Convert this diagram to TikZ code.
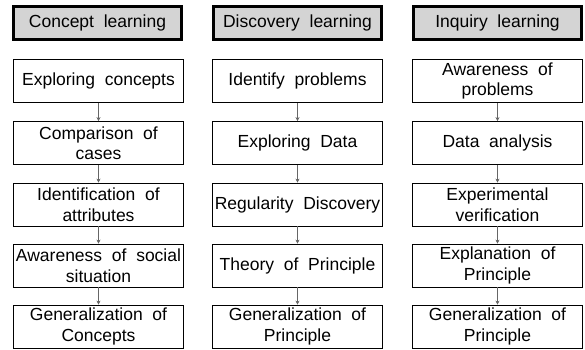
\documentclass[tikz,border=0pt]{standalone}
\usepackage{fontspec}
\setmainfont{Liberation Sans}
\usetikzlibrary{arrows.meta}
\begin{document}
\begin{tikzpicture}[x=1pt,y=-1pt,
  hdr/.style={draw=black, line width=2.6pt, fill=black!17, minimum width=168pt, minimum height=33pt, inner sep=0pt, font=\fontsize{17.5}{19}\selectfont},
  stepbox/.style={draw=black, line width=0.8pt, minimum width=170pt, minimum height=43pt, inner sep=0pt, align=center, font=\fontsize{17.5}{20.5}\selectfont},
  arr/.style={draw=black!60, line width=0.8pt, -{Stealth[length=4pt,width=4pt,fill=black]}}
]
\useasboundingbox (0,0) rectangle (585,349);
% headers
\node[hdr] (h1) at (97.5,23) {Concept\ \ learning};
\node[hdr] (h2) at (297.5,23) {Discovery\ \ learning};
\node[hdr] (h3) at (497.5,23) {Inquiry\ \ learning};
% column 1
\node[stepbox] (a1) at (98.5,81) {Exploring\ \ concepts};
\node[stepbox] (a2) at (98.5,143) {Comparison\ \ of\\cases};
\node[stepbox] (a3) at (98.5,204.5) {Identification\ \ of\\attributes};
\node[stepbox] (a4) at (98.5,265.5) {Awareness\ \ of\ \ social\\situation};
\node[stepbox] (a5) at (98.5,326.5) {Generalization\ \ of\\Concepts};
% column 2
\node[stepbox] (b1) at (297.5,81) {Identify\ \ problems};
\node[stepbox] (b2) at (297.5,143) {Exploring\ \ Data};
\node[stepbox] (b3) at (297.5,204.5) {Regularity\ \ Discovery};
\node[stepbox] (b4) at (297.5,265.5) {Theory\ \ of\ \ Principle};
\node[stepbox] (b5) at (297.5,326.5) {Generalization\ \ of\\Principle};
% column 3
\node[stepbox] (c1) at (497.5,81) {Awareness\ \ of\\problems};
\node[stepbox] (c2) at (497.5,143) {Data\ \ analysis};
\node[stepbox] (c3) at (497.5,204.5) {Experimental\\verification};
\node[stepbox] (c4) at (497.5,265.5) {Explanation\ \ of\\Principle};
\node[stepbox] (c5) at (497.5,326.5) {Generalization\ \ of\\Principle};
% arrows
\foreach \c in {a,b,c}{
  \draw[arr] (\c1.south) -- (\c2.north);
  \draw[arr] (\c2.south) -- (\c3.north);
  \draw[arr] (\c3.south) -- (\c4.north);
  \draw[arr] (\c4.south) -- (\c5.north);
}
\end{tikzpicture}
\end{document}
